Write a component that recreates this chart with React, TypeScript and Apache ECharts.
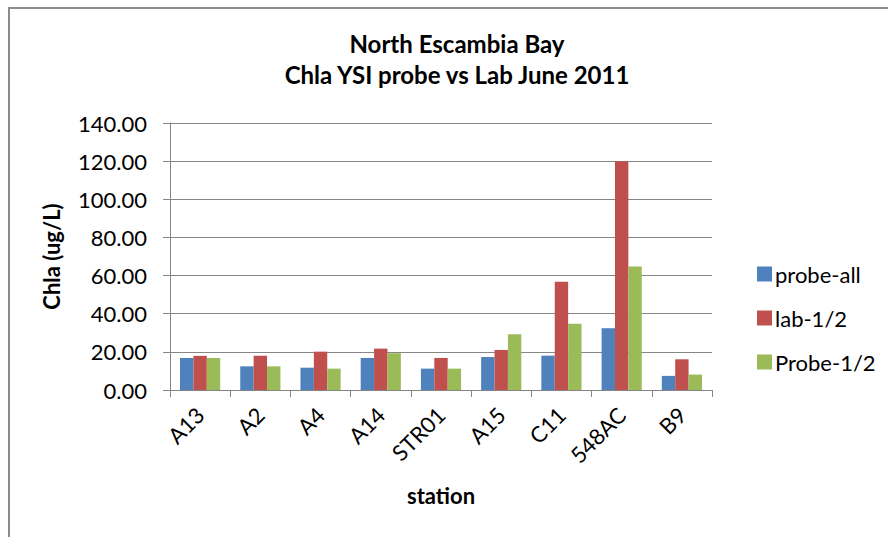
import React, { useEffect, useRef } from "react";
import * as echarts from "echarts";

const stations = ["A13", "A2", "A4", "A14", "STR01", "A15", "C11", "548AC", "B9"];
const probeAll = [16.8, 12.4, 11.7, 16.8, 11.2, 17.3, 18.0, 32.4, 7.4];
const lab12 = [17.9, 17.9, 20.1, 21.7, 16.8, 21.0, 56.7, 120.0, 16.1];
const probe12 = [16.8, 12.4, 11.2, 19.3, 11.2, 29.2, 34.8, 64.8, 8.1];
const seriesNames = ["probe-all", "lab-1/2", "Probe-1/2"];
const colors = ["#4F81BD", "#C0504D", "#9BBB59"];
const titleLines = ["North Escambia Bay", "Chla YSI probe vs Lab June 2011"];

const FONT = "Lato";

export default function App() {
  const ref = useRef<HTMLDivElement>(null);
  useEffect(() => {
    if (!ref.current) return;
    const chart = echarts.init(ref.current, undefined, { renderer: "svg" });
    const data = [probeAll, lab12, probe12];
    chart.setOption({
      animation: false,
      backgroundColor: "#ffffff",
      textStyle: { fontFamily: FONT, color: "#000" },
      title: {
        text: titleLines.join("\n"),
        left: 452,
        top: 23,
        textAlign: "center",
        textStyle: {
          fontFamily: FONT,
          fontSize: 24,
          fontWeight: "bold",
          color: "#000",
          lineHeight: 31,
        },
      },
      graphic: [
        {
          type: "rect",
          shape: { x: 9, y: 8, width: 900, height: 600 },
          style: { fill: "none", stroke: "#8c8c8c", lineWidth: 2 },
          silent: true,
        },
      ],
      legend: {
        orient: "vertical",
        left: 752,
        top: 258,
        itemWidth: 15,
        itemHeight: 15,
        itemGap: 22,
        icon: "rect",
        data: seriesNames,
        textStyle: { fontFamily: FONT, fontSize: 22, color: "#000", lineHeight: 22, padding: [0, 0, 0, -2] },
      },
      grid: { left: 170, right: 176, top: 123, bottom: 147, containLabel: false },
      xAxis: {
        type: "category",
        data: stations,
        name: "station",
        nameLocation: "middle",
        nameGap: 94,
        nameTextStyle: { fontFamily: FONT, fontSize: 22, fontWeight: "bold", color: "#000" },
        axisLine: { lineStyle: { color: "#868686", width: 1 } },
        axisTick: { show: true, length: 7, inside: false, lineStyle: { color: "#868686" } },
        axisLabel: {
          rotate: 45,
          margin: 21,
          fontFamily: FONT,
          fontSize: 22,
          color: "#000",
          interval: 0,
        },
      },
      yAxis: {
        type: "value",
        min: 0,
        max: 140,
        interval: 20,
        name: "Chla (ug/L)",
        nameLocation: "middle",
        nameGap: 108,
        nameRotate: 90,
        nameTextStyle: { fontFamily: FONT, fontSize: 22, fontWeight: "bold", color: "#000" },
        axisLine: { show: true, lineStyle: { color: "#868686", width: 1 } },
        axisTick: { show: true, length: 7, lineStyle: { color: "#868686" } },
        splitLine: { show: true, lineStyle: { color: "#868686", width: 1 } },
        axisLabel: {
          margin: 23,
          fontFamily: FONT,
          fontSize: 22,
          color: "#000",
          formatter: (v: number) => v.toFixed(2),
        },
      },
      series: seriesNames.map((name, i) => ({
        name,
        type: "bar",
        data: data[i],
        barGap: "0%",
        barCategoryGap: "33.3%",
        itemStyle: { color: colors[i] },
      })),
    });
    return () => chart.dispose();
  }, []);
  return (
    <div
      ref={ref}
      style={{ position: "absolute", left: 0, top: 0, width: 888, height: 537 }}
    />
  );
}
